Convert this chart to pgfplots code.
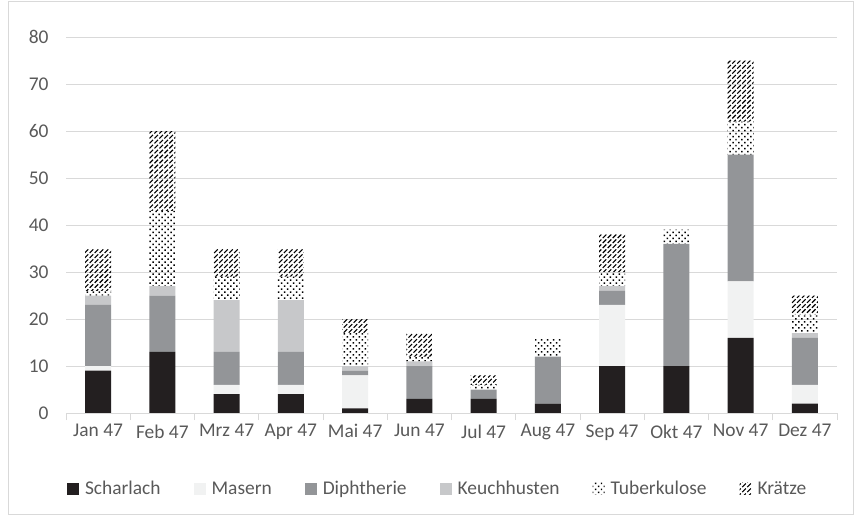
\documentclass[border=0pt]{standalone}
\usepackage{pgfplots}
\pgfplotsset{compat=1.18}
\usepackage{fontspec}
\setmainfont{Carlito}
\usetikzlibrary{patterns}
\definecolor{txt}{HTML}{595959}
\definecolor{gridc}{HTML}{D9D9D9}
\definecolor{cScharlach}{HTML}{231F20}
\definecolor{cMasern}{HTML}{F1F2F2}
\definecolor{cDiph}{HTML}{939598}
\definecolor{cKeuch}{HTML}{C7C8CA}
\pgfdeclarepatternformonly{tbdots}{\pgfqpoint{-1pt}{-1pt}}{\pgfqpoint{7pt}{7pt}}{\pgfqpoint{6pt}{6pt}}{%
  \pgfpathrectangle{\pgfqpoint{0pt}{0pt}}{\pgfqpoint{1.5pt}{1.5pt}}%
  \pgfpathrectangle{\pgfqpoint{3pt}{3pt}}{\pgfqpoint{1.5pt}{1.5pt}}%
  \pgfusepath{fill}}
\pgfdeclarepatternformonly{kraetze}{\pgfqpoint{-1pt}{-1pt}}{\pgfqpoint{6pt}{6pt}}{\pgfqpoint{5pt}{5pt}}{%
  \pgfsetlinewidth{1.1pt}%
  \pgfpathmoveto{\pgfqpoint{0pt}{0pt}}\pgfpathlineto{\pgfqpoint{3.6pt}{3.6pt}}%
  \pgfusepath{stroke}}
\begin{document}
\begin{tikzpicture}
\useasboundingbox (0,0) rectangle (856bp,517bp);
\draw[gridc, line width=1bp] (8bp,2bp) rectangle (853bp,515bp);
\begin{axis}[
  at={(66bp,104bp)}, anchor=south west,
  width=771bp, height=376bp, scale only axis,
  ybar stacked, bar width=26bp,
  xmin=-0.5, xmax=11.5, ymin=0, ymax=80,
  xtick={0,...,11},
  xticklabels={Jan 47,Feb 47,Mrz 47,Apr 47,Mai 47,Jun 47,Jul 47,Aug 47,Sep 47,Okt 47,Nov 47,Dez 47},
  ytick={0,10,...,80},
  major tick length=0pt,
  extra x ticks={-0.5,0.5,...,11.5},
  extra x tick labels={},
  extra x tick style={major tick length=7bp, tick align=outside, tick style={gridc, line width=1bp}, grid=none},
  axis x line*=bottom, axis y line*=left,
  x axis line style={gridc, line width=1bp, -},
  y axis line style={draw=none},
  ymajorgrids, grid style={gridc, line width=1bp},
  tick label style={font=\fontsize{19.5}{22}\selectfont, text=txt},
  /pgf/number format/assume math mode=true,
  yticklabel style={xshift=-14bp},
  xticklabel style={yshift=-8bp},
  legend columns=6,
  legend style={at={(0.482,-0.202)}, anchor=center, draw=none, fill=none,
    font=\fontsize{19.5}{22}\selectfont, text=txt,
    /tikz/every odd column/.append style={column sep=4bp},
    /tikz/every even column/.append style={column sep=31bp}},
  legend image code/.code={\fill[#1] (0bp,-6bp) rectangle (12bp,6bp);},
]
\addplot[fill=cScharlach, draw=none] coordinates {(0,9) (1,13) (2,4) (3,4) (4,1) (5,3) (6,3) (7,2) (8,10) (9,10) (10,16) (11,2)};
\addplot[fill=cMasern, draw=none] coordinates {(0,1) (1,0) (2,2) (3,2) (4,7) (5,0) (6,0) (7,0) (8,13) (9,0) (10,12) (11,4)};
\addplot[fill=cDiph, draw=none] coordinates {(0,13) (1,12) (2,7) (3,7) (4,1) (5,7) (6,2) (7,10) (8,3) (9,26) (10,27) (11,10)};
\addplot[fill=cKeuch, draw=none] coordinates {(0,2) (1,2) (2,11) (3,11) (4,1) (5,1) (6,0) (7,0) (8,1) (9,0) (10,0) (11,1)};
\addplot[pattern=tbdots, pattern color=black, draw=none] coordinates {(0,1) (1,16) (2,5) (3,5) (4,7) (5,1) (6,1) (7,4) (8,3) (9,3) (10,7) (11,4)};
\addplot[pattern=kraetze, pattern color=black, draw=none] coordinates {(0,9) (1,17) (2,6) (3,6) (4,3) (5,5) (6,2) (7,0) (8,8) (9,0) (10,13) (11,4)};
\legend{Scharlach,Masern,Diphtherie,Keuchhusten,Tuberkulose,Krätze}
\end{axis}
\end{tikzpicture}
\end{document}
